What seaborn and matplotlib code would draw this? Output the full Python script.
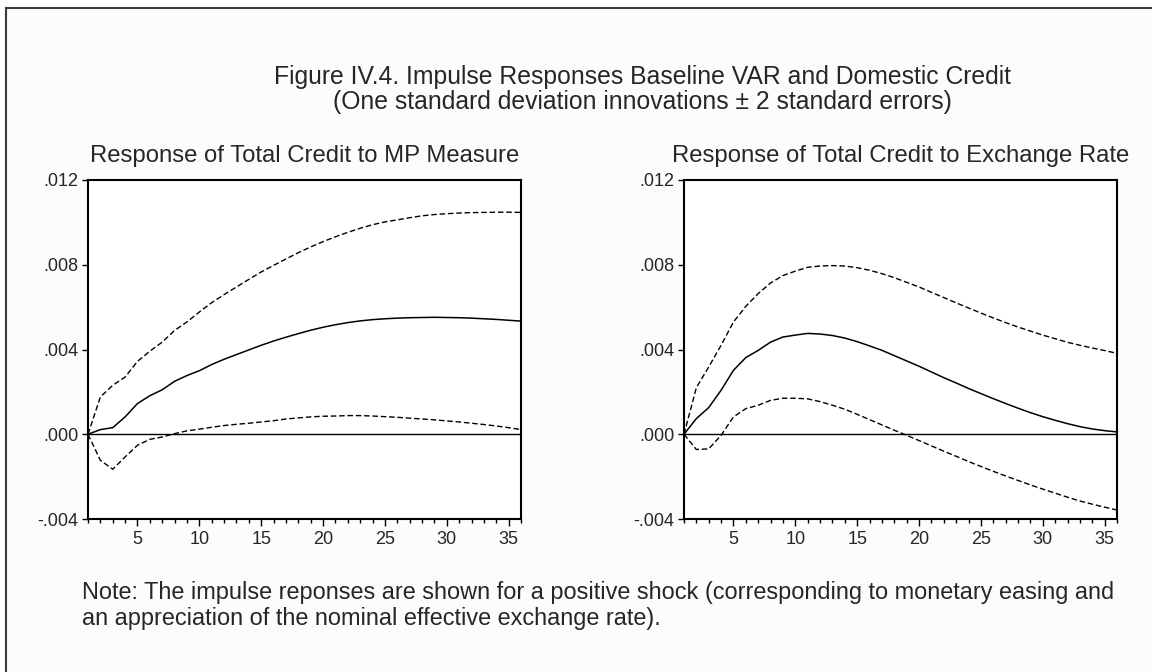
import numpy as np
import pandas as pd
import seaborn as sns
import matplotlib.pyplot as plt
import matplotlib.patches as patches
from matplotlib.ticker import FuncFormatter, MultipleLocator

# Periods after the shock
periods = list(range(1, 37))

# Response of total credit to MP measure
mp_resp = [0.0, 0.00022, 0.00031, 0.00082, 0.00145, 0.00182, 0.0021, 0.0025, 0.00277, 0.0030,
           0.00329, 0.00354, 0.00376, 0.00398, 0.0042, 0.0044, 0.00458, 0.00475, 0.00491, 0.00505,
           0.00517, 0.00527, 0.00535, 0.00541, 0.00545, 0.00548, 0.0055, 0.00551, 0.00552, 0.00551,
           0.0055, 0.00548, 0.00545, 0.00542, 0.00538, 0.00534]
mp_upper = [0.0, 0.00176, 0.00231, 0.0027, 0.00344, 0.00392, 0.00435, 0.0049, 0.0053, 0.00577,
            0.00621, 0.00659, 0.00695, 0.00731, 0.00766, 0.00797, 0.00827, 0.00857, 0.00884, 0.00909,
            0.00932, 0.00953, 0.00972, 0.00989, 0.01002, 0.01012, 0.01022, 0.01031, 0.01037, 0.01041,
            0.01044, 0.01046, 0.01047, 0.01048, 0.01048, 0.01047]
mp_lower = [0.0, -0.00123, -0.00165, -0.00107, -0.00052, -0.00024, -0.00013, 0.00003, 0.00016, 0.00024,
            0.00033, 0.00041, 0.00047, 0.00052, 0.00058, 0.00064, 0.00072, 0.00077, 0.00082, 0.00085,
            0.00086, 0.00088, 0.00088, 0.00086, 0.00083, 0.0008, 0.00076, 0.00072, 0.00068, 0.00063,
            0.00058, 0.00052, 0.00046, 0.00039, 0.00031, 0.00022]

# Response of total credit to exchange rate
fx_resp = [0.0, 0.00074, 0.00126, 0.00208, 0.00302, 0.00362, 0.00396, 0.00435, 0.00459, 0.00468,
           0.00476, 0.00473, 0.00466, 0.00454, 0.00437, 0.00417, 0.00396, 0.00371, 0.00346, 0.00321,
           0.00294, 0.00267, 0.00242, 0.00216, 0.00192, 0.00168, 0.00145, 0.00123, 0.00102, 0.00083,
           0.00066, 0.0005, 0.00036, 0.00025, 0.00017, 0.00011]
fx_upper = [0.0, 0.0022, 0.00318, 0.0042, 0.0053, 0.00604, 0.00664, 0.00714, 0.00749, 0.0077,
            0.00788, 0.00794, 0.00796, 0.00794, 0.00786, 0.00774, 0.00758, 0.00739, 0.00717, 0.00695,
            0.0067, 0.00645, 0.0062, 0.00596, 0.00572, 0.00549, 0.00527, 0.00506, 0.00487, 0.00468,
            0.00451, 0.00434, 0.0042, 0.00407, 0.00395, 0.00382]
fx_lower = [0.0, -0.00072, -0.00069, -0.00005, 0.00082, 0.00121, 0.00137, 0.0016, 0.0017, 0.0017,
            0.00167, 0.00154, 0.00137, 0.00118, 0.00094, 0.00069, 0.00044, 0.00019, -0.00005, -0.0003,
            -0.00055, -0.0008, -0.00104, -0.00129, -0.00152, -0.00175, -0.00197, -0.00218, -0.00239, -0.00259,
            -0.00278, -0.00297, -0.00315, -0.0033, -0.00344, -0.00358]

panel_titles = ['Response of Total Credit to MP Measure',
                'Response of Total Credit to Exchange Rate']
y_ticks = [-0.004, 0.0, 0.004, 0.008, 0.012]

sns.set_style('ticks')
plt.rcParams['font.family'] = ['Liberation Sans', 'DejaVu Sans']

fig = plt.figure(figsize=(11.52, 6.72), dpi=100, facecolor='white')

# Light frame around the whole figure (open at right and bottom like the original)
frame = patches.Rectangle((6 / 1152, -0.1), 1.2, 1 - 8 / 672 + 0.1, transform=fig.transFigure,
                          facecolor='#fcfcfc', edgecolor='#3a3a3a', linewidth=1.5, zorder=-10)
fig.patches.append(frame)

ax_left = fig.add_axes([88 / 1152, 1 - 519 / 672, 433 / 1152, 339 / 672])
ax_right = fig.add_axes([684 / 1152, 1 - 519 / 672, 433 / 1152, 339 / 672])

panels = [(ax_left, mp_resp, mp_upper, mp_lower), (ax_right, fx_resp, fx_upper, fx_lower)]

for (ax, resp, upper, lower), title in zip(panels, panel_titles):
    ax.set_facecolor('white')
    df = pd.DataFrame({'period': periods, 'resp': resp, 'upper': upper, 'lower': lower})
    ax.axhline(0, color='black', linewidth=1.0, zorder=1)
    sns.lineplot(data=df, x='period', y='resp', ax=ax, color='black', linewidth=1.1)
    sns.lineplot(data=df, x='period', y='upper', ax=ax, color='black', linewidth=1.0,
                 linestyle=(0, (4, 2)))
    sns.lineplot(data=df, x='period', y='lower', ax=ax, color='black', linewidth=1.0,
                 linestyle=(0, (4, 2)))

    ax.set_xlim(1, 36)
    ax.set_ylim(-0.004, 0.012)
    ax.set_yticks(y_ticks)
    ax.yaxis.set_major_formatter(FuncFormatter(lambda v, p: f'{v:.3f}'.replace('0.', '.', 1)))
    ax.xaxis.set_major_locator(MultipleLocator(5))
    ax.xaxis.set_minor_locator(MultipleLocator(1))
    ax.tick_params(axis='x', which='major', direction='out', length=5, width=1,
                   labelsize=13, pad=4, color='black')
    ax.tick_params(axis='x', which='minor', direction='out', length=3, width=1, color='black')
    ax.tick_params(axis='y', which='major', direction='out', length=4, width=1,
                   labelsize=13, pad=3, color='black')
    ax.set_xlabel('')
    ax.set_ylabel('')
    for side in ['top', 'right', 'bottom', 'left']:
        ax.spines[side].set_visible(True)
        ax.spines[side].set_linewidth(1.5)
        ax.spines[side].set_color('black')
    ax.set_title(title, fontsize=17.2, pad=13)

fig.text(0.558, 1 - 77 / 672, 'Figure IV.4. Impulse Responses Baseline VAR and Domestic Credit',
         ha='center', va='center', fontsize=17.8)
fig.text(0.558, 1 - 102 / 672, '(One standard deviation innovations \u00b1 2 standard errors)',
         ha='center', va='center', fontsize=17.8)

fig.text(82 / 1152, 1 - 592 / 672,
         'Note: The impulse reponses are shown for a positive shock (corresponding to monetary easing and',
         ha='left', va='center', fontsize=16.9)
fig.text(82 / 1152, 1 - 618 / 672,
         'an appreciation of the nominal effective exchange rate).',
         ha='left', va='center', fontsize=16.9)

plt.savefig('out.png', dpi=100)
